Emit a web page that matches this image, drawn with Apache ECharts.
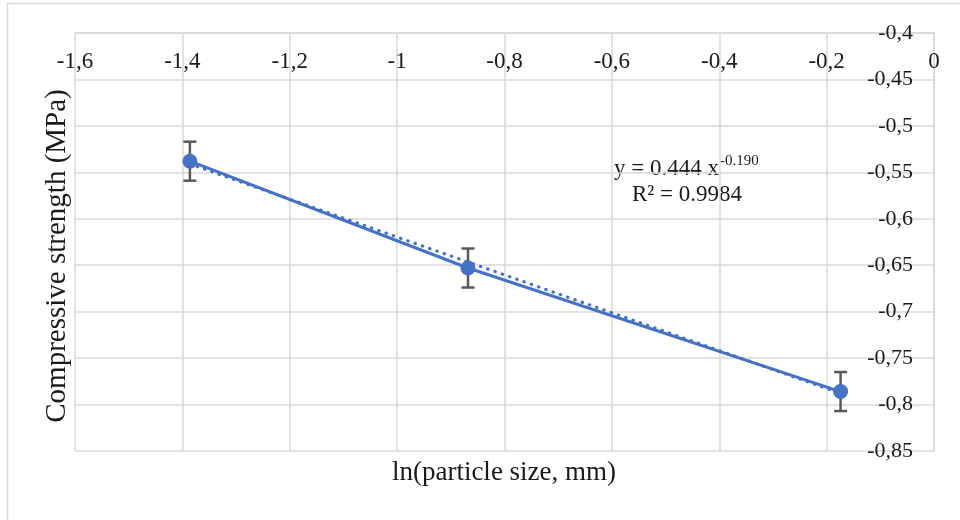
<!DOCTYPE html>
<html>
<head>
<meta charset="utf-8">
<script src="https://cdn.jsdelivr.net/npm/echarts@6/dist/echarts.min.js"></script>
<style>
  html, body { margin: 0; padding: 0; background: #fff; }
  #chart { width: 960px; height: 520px; }
</style>
</head>
<body>
<div id="chart"></div>
<script>
// measured points: ln(particle size) vs compressive strength
const lnSize = [-1.386, -0.868, -0.174];
const strength = [-0.538, -0.653, -0.786];
const errHalf = [0.021, 0.021, 0.021];
// dotted trendline end points
const trendX = [-1.386, -0.174];
const trendY = [-0.541, -0.788];
const eqMain = 'y = 0.444 x';
const eqPow = '-0.190';
const eqR2 = 'R² = 0.9984';

const FONT = '"Liberation Serif", "Times New Roman", serif';
const BLUE = '#4472c4';
const GRID = '#d9d9d9';
const INK = '#1a1a1a';

const commaFmt = v => String(+v.toFixed(2)).replace('.', ',');

const points = lnSize.map((x, i) => [x, strength[i]]);
const errData = lnSize.map((x, i) => [x, strength[i] - errHalf[i], strength[i] + errHalf[i]]);
const trend = trendX.map((x, i) => [x, trendY[i]]);

const chart = echarts.init(document.getElementById('chart'));
chart.setOption({
  animation: false,
  backgroundColor: '#fff',
  grid: { left: 75, top: 33, right: 26, bottom: 69, containLabel: false },
  xAxis: {
    type: 'value', position: 'top',
    min: -1.6, max: 0, interval: 0.2,
    axisLine: { show: true, lineStyle: { color: GRID, width: 1.5 } },
    axisTick: { show: false },
    splitLine: { show: true, lineStyle: { color: GRID, width: 1.5 } },
    axisLabel: {
      inside: true, margin: 17, color: INK, fontFamily: FONT, fontSize: 23,
      showMinLabel: true, showMaxLabel: true, formatter: commaFmt
    }
  },
  yAxis: {
    type: 'value', position: 'right',
    min: -0.85, max: -0.4, interval: 0.05,
    axisLine: { show: true, lineStyle: { color: GRID, width: 1.5 } },
    axisTick: { show: false },
    splitLine: { show: true, lineStyle: { color: GRID, width: 1.5 } },
    axisLabel: {
      inside: true, margin: 21, color: INK, fontFamily: FONT, fontSize: 22,
      showMinLabel: true, showMaxLabel: true, formatter: commaFmt
    }
  },
  series: [
    {
      type: 'custom',
      z: 2,
      data: errData,
      renderItem: (params, api) => {
        const x = api.value(0);
        const lo = api.coord([x, api.value(1)]);
        const hi = api.coord([x, api.value(2)]);
        const w = 6.5;
        const style = { stroke: '#595959', lineWidth: 2.5 };
        return {
          type: 'group',
          children: [
            { type: 'line', shape: { x1: lo[0], y1: lo[1], x2: hi[0], y2: hi[1] }, style },
            { type: 'line', shape: { x1: lo[0] - w, y1: lo[1], x2: lo[0] + w, y2: lo[1] }, style },
            { type: 'line', shape: { x1: hi[0] - w, y1: hi[1], x2: hi[0] + w, y2: hi[1] }, style }
          ]
        };
      }
    },
    {
      type: 'line',
      z: 3,
      data: trend,
      symbol: 'none',
      lineStyle: { color: BLUE, width: 3.2, type: [0.5, 7.2], cap: 'round' }
    },
    {
      type: 'line',
      z: 4,
      data: points,
      symbol: 'circle',
      symbolSize: 15,
      itemStyle: { color: BLUE },
      lineStyle: { color: BLUE, width: 3 }
    }
  ],
  graphic: [
    {
      type: 'rect', silent: true, z: -10,
      shape: { x: 7.5, y: 3.5, width: 1000, height: 600 },
      style: { fill: 'none', stroke: GRID, lineWidth: 1.5 }
    },
    {
      type: 'text', left: 614, top: 154,
      style: {
        text: '{m|' + eqMain + '}{s|' + eqPow + '}',
        rich: {
          m: { fontFamily: FONT, fontSize: 23, fill: INK, verticalAlign: 'bottom', lineHeight: 26 },
          s: { fontFamily: FONT, fontSize: 15, fill: INK, verticalAlign: 'top', lineHeight: 26, padding: [0, 0, 8, 1] }
        }
      }
    },
    {
      type: 'text', left: 632, top: 183,
      style: { text: eqR2, fontFamily: FONT, fontSize: 23, fill: INK }
    },
    {
      type: 'text', x: 504, y: 473,
      style: { text: 'ln(particle size, mm)', fontFamily: FONT, fontSize: 27, fill: INK, align: 'center', verticalAlign: 'middle' }
    },
    {
      type: 'text', x: 57, y: 256, rotation: Math.PI / 2,
      style: { text: 'Compressive strength (MPa)', fontFamily: FONT, fontSize: 29, fill: INK, align: 'center', verticalAlign: 'middle' }
    }
  ]
});
</script>
</body>
</html>
